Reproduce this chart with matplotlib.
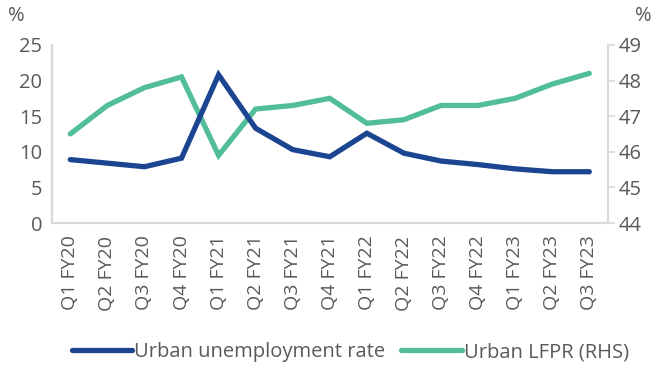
import matplotlib.pyplot as plt
import numpy as np

plt.rcParams['font.family'] = 'Open Sans'

# Quarterly urban labour market indicators
quarters = ['Q1 FY20', 'Q2 FY20', 'Q3 FY20', 'Q4 FY20',
            'Q1 FY21', 'Q2 FY21', 'Q3 FY21', 'Q4 FY21',
            'Q1 FY22', 'Q2 FY22', 'Q3 FY22', 'Q4 FY22',
            'Q1 FY23', 'Q2 FY23', 'Q3 FY23']
unemployment = [8.9, 8.4, 7.9, 9.1, 20.8, 13.3, 10.3, 9.3, 12.6, 9.8, 8.7, 8.2, 7.6, 7.2, 7.2]
lfpr = [46.5, 47.3, 47.8, 48.1, 45.9, 47.2, 47.3, 47.5, 46.8, 46.9, 47.3, 47.3, 47.5, 47.9, 48.2]

blue = '#1B4591'
green = '#52BD99'
txt = '#595959'
spine_col = '#D9D9D9'

fig = plt.figure(figsize=(6.55, 3.65), dpi=100)
ax = fig.add_axes([0.079, 0.389, 0.849, 0.488])
ax2 = ax.twinx()

x = np.arange(len(quarters))
l1, = ax.plot(x, unemployment, color=blue, lw=3.8, solid_capstyle='round',
              solid_joinstyle='miter', label='Urban unemployment rate', zorder=3)
l2, = ax2.plot(x, lfpr, color=green, lw=3.8, solid_capstyle='round',
               solid_joinstyle='miter', label='Urban LFPR (RHS)', zorder=2)

ax.set_xlim(-0.5, len(quarters) - 0.5)
ax.set_ylim(0, 25)
ax.set_yticks(range(0, 26, 5))
ax2.set_ylim(44, 49)
ax2.set_yticks(range(44, 50))

ax.set_xticks(x)
ax.set_xticklabels(quarters, rotation=90, fontsize=14, color=txt)
ax.tick_params(axis='x', length=0, pad=9)
ax.tick_params(axis='y', length=0, labelsize=14.5, labelcolor=txt, pad=7)
ax2.tick_params(axis='y', length=5, width=1.2, color=spine_col,
                labelsize=14.5, labelcolor=txt, pad=3)

for a in (ax, ax2):
    a.spines['top'].set_visible(False)
    for s in ('left', 'right', 'bottom'):
        a.spines[s].set_color(spine_col)
        a.spines[s].set_linewidth(1.5)
ax.set_zorder(ax2.get_zorder() + 1)
ax.patch.set_visible(False)

fig.text(0.012, 0.955, '%', fontsize=14.5, color=txt, ha='left', va='center')
fig.text(0.995, 0.955, '%', fontsize=14.5, color=txt, ha='right', va='center')

fig.legend(handles=[l1, l2], loc='center', bbox_to_anchor=(0.535, 0.035),
           ncol=2, frameon=False, fontsize=14.5, labelcolor=txt,
           handlelength=3.0, handletextpad=0.1, columnspacing=0.8)

fig.savefig('out.png', dpi=100)
